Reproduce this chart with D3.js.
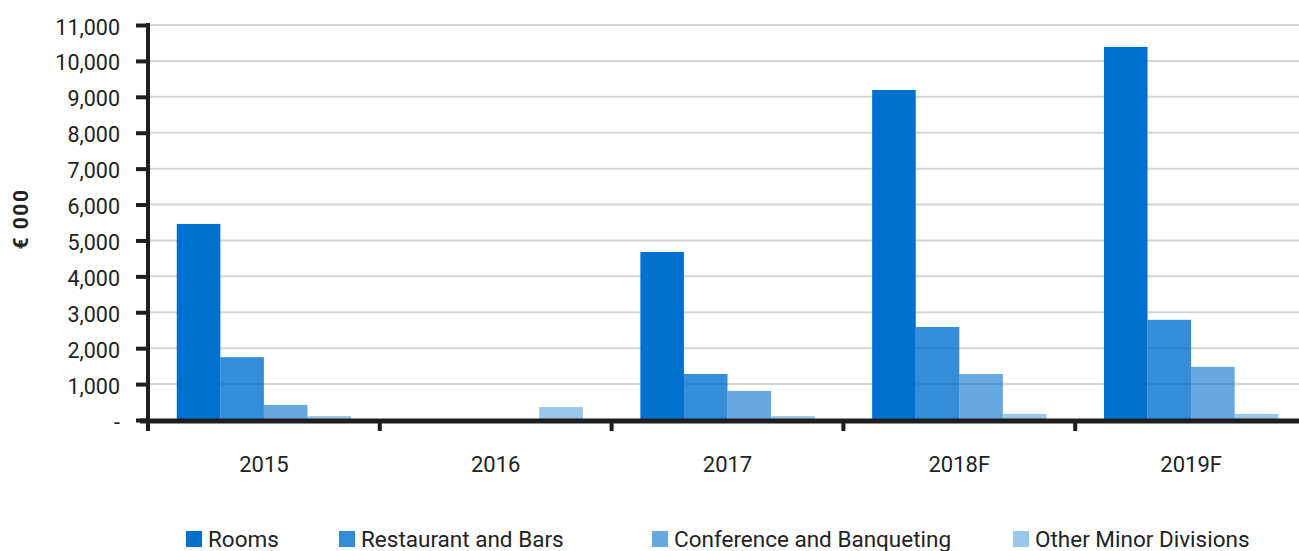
<!DOCTYPE html>
<html>
<head>
<meta charset="utf-8">
<script src="https://cdn.jsdelivr.net/npm/d3@7/dist/d3.min.js"></script>
<style>
  html, body { margin: 0; padding: 0; background: #fff; }
  svg { display: block; }
  text { font-family: Roboto, "Open Sans", sans-serif; fill: #222; }
</style>
</head>
<body>
<svg id="chart" width="1299" height="551"></svg>
<script>
// Revenue by department, € 000
const years = ["2015", "2016", "2017", "2018F", "2019F"];
const seriesNames = ["Rooms", "Restaurant and Bars", "Conference and Banqueting", "Other Minor Divisions"];
const rooms       = [5460, 0, 4680, 9190, 10390];
const restaurant  = [1750, 0, 1280, 2590, 2790];
const conference  = [420, 0, 810, 1280, 1480];
const otherMinor  = [110, 360, 110, 170, 170];
const yTicks = [0, 1000, 2000, 3000, 4000, 5000, 6000, 7000, 8000, 9000, 10000, 11000];
const yTitle = "€ 000";

const seriesValues = [rooms, restaurant, conference, otherMinor];
const opacities = [1, 0.8, 0.6, 0.4];
const baseColor = "#0070CE";

const svg = d3.select("#chart");
const plotLeft = 148, plotTop = 25, plotBottom = 420;
const bandW = 231.8;
const plotRight = plotLeft + bandW * years.length;

const x0 = d3.scaleBand().domain(years).range([plotLeft, plotRight]).padding(0);
const x1 = d3.scaleBand().domain(seriesNames).range([0, x0.bandwidth()])
  .paddingInner(0).paddingOuter(0.66);
const y = d3.scaleLinear().domain([0, 11000]).range([plotBottom, plotTop]);

// gridlines
svg.append("g").selectAll("line").data(yTicks.filter(d => d > 0)).join("line")
  .attr("x1", plotLeft).attr("x2", 1299)
  .attr("y1", d => y(d)).attr("y2", d => y(d))
  .attr("stroke", "#d4d4d4").attr("stroke-width", 2);

// bars
const rows = years.map((yr, i) => ({ yr, vals: seriesNames.map((s, j) => ({ s, j, v: seriesValues[j][i] })) }));
svg.append("g").selectAll("g").data(rows).join("g")
  .attr("transform", d => `translate(${x0(d.yr)},0)`)
  .selectAll("rect").data(d => d.vals.filter(e => e.v > 0)).join("rect")
  .attr("x", d => x1(d.s)).attr("width", x1.bandwidth())
  .attr("y", d => y(d.v)).attr("height", d => y(0) - y(d.v))
  .attr("fill", baseColor).attr("fill-opacity", d => opacities[d.j]);

// y axis
const yAxis = d3.axisLeft(y).tickValues(yTicks).tickSize(12).tickPadding(16)
  .tickFormat(d => d === 0 ? "-" : d3.format(",")(d));
const gy = svg.append("g").attr("transform", `translate(${plotLeft},0)`).call(yAxis);
gy.select(".domain").remove();
gy.selectAll(".tick line").attr("stroke", "#1e1e1e").attr("stroke-width", 4);
gy.selectAll(".tick text").attr("font-size", 21.5).attr("fill", "#222")
  .attr("font-family", "Roboto, sans-serif").attr("dy", "0.42em");
svg.append("line").attr("x1", plotLeft).attr("x2", plotLeft).attr("y1", plotTop - 2).attr("y2", plotBottom + 11)
  .attr("stroke", "#1e1e1e").attr("stroke-width", 4);

// x axis
const xAxis = d3.axisBottom(x0).tickSize(0).tickPadding(0);
const gx = svg.append("g").attr("transform", `translate(0,${plotBottom})`).call(xAxis);
gx.select(".domain").remove();
gx.selectAll(".tick text").attr("font-size", 22).attr("fill", "#222").attr("dy", "2.35em")
  .attr("font-family", "Roboto, sans-serif");
svg.append("line").attr("x1", plotLeft - 8).attr("x2", 1299).attr("y1", plotBottom + 1).attr("y2", plotBottom + 1)
  .attr("stroke", "#1e1e1e").attr("stroke-width", 5);
svg.append("g").selectAll("line").data(years).join("line")
  .attr("x1", d => x0(d)).attr("x2", d => x0(d))
  .attr("y1", plotBottom).attr("y2", plotBottom + 11)
  .attr("stroke", "#1e1e1e").attr("stroke-width", 4);

// y title
svg.append("text").attr("transform", "translate(28,219) rotate(-90)")
  .attr("text-anchor", "middle").attr("font-size", 21).attr("font-weight", "bold")
  .attr("letter-spacing", 1.5).attr("fill", "#111").text(yTitle);

// legend
const legendX = [186, 339, 652, 1013];
const lg = svg.append("g").selectAll("g").data(seriesNames).join("g")
  .attr("transform", (d, i) => `translate(${legendX[i]},531)`);
lg.append("rect").attr("width", 16).attr("height", 16)
  .attr("fill", baseColor).attr("fill-opacity", (d, i) => opacities[i]);
lg.append("text").attr("x", 22).attr("y", 15.5).attr("font-size", 22.5)
  .attr("fill", "#222").text(d => d);
</script>
</body>
</html>
